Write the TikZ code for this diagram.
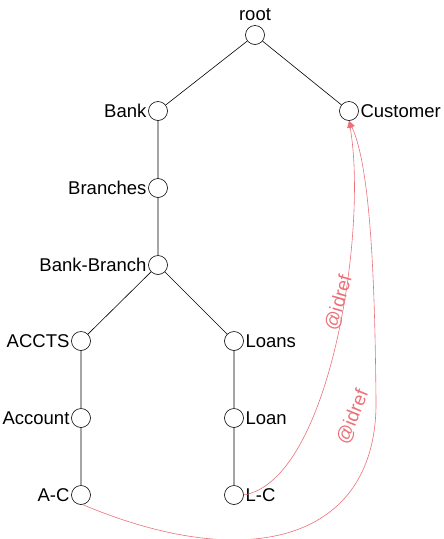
\documentclass[tikz,border=0pt]{standalone}
\usepackage{fontspec}
\setmainfont{Liberation Sans}
\usetikzlibrary{arrows.meta}
\definecolor{idred}{RGB}{236,112,120}

\begin{document}
\begin{tikzpicture}[x=1pt,y=-1pt,line width=0.6pt,
    elem/.style={circle,draw,minimum size=19pt,inner sep=0pt},
    txt/.style={font=\fontsize{18.5}{20}\selectfont,inner sep=1.5pt},
    lft/.style={label={[txt]left:#1}},
    rgt/.style={label={[txt]right:#1}},
    idref/.style={draw=idred,-{Triangle[length=7pt,width=6pt]}},
    idtxt/.style={text=idred,font=\fontsize{19}{21}\selectfont,inner sep=0pt}]
		\useasboundingbox (0,0) rectangle (444,539);
		
		\node[elem,label={[txt,label distance=3pt]above:root}] (root) at (255,35) {};
		\node[elem,lft=Bank] (bank) at (158,111) {};
		\node[elem,rgt=Customer] (cust) at (349,111) {};
		\node[elem,lft=Branches] (branches) at (158,188) {};
		\node[elem,lft=Bank-Branch] (bb) at (158,265) {};
		\node[elem,lft=ACCTS] (accts) at (81,341) {};
		\node[elem,lft=Account] (account) at (81,418) {};
		\node[elem,lft=A-C] (ac) at (81,495) {};
		\node[elem,rgt=Loans] (loans) at (234,341) {};
		\node[elem,rgt=Loan] (loan) at (234,418) {};
		\node[elem,rgt=L-C] (lc) at (234,495) {};
		
		\draw (root)--(bank)--(branches)--(bb)--(accts)--(account)--(ac);
		\draw (root)--(cust);
		\draw (bb)--(loans)--(loan)--(lc);
		
		% idref links
		\draw[idref] (lc.east) .. controls (330,480) and (368,230) .. (cust.south);
		\draw[idref] (ac.-80) .. controls (250,575) and (378,540) .. (376,400)
			.. controls (375,300) and (372,170) .. (cust.south);
		
		\node[idtxt,rotate=74] (id1) at (339,303) {@idref};
		\node[idtxt,rotate=68] (id2) at (353,417) {@idref};
\end{tikzpicture}
\end{document}
